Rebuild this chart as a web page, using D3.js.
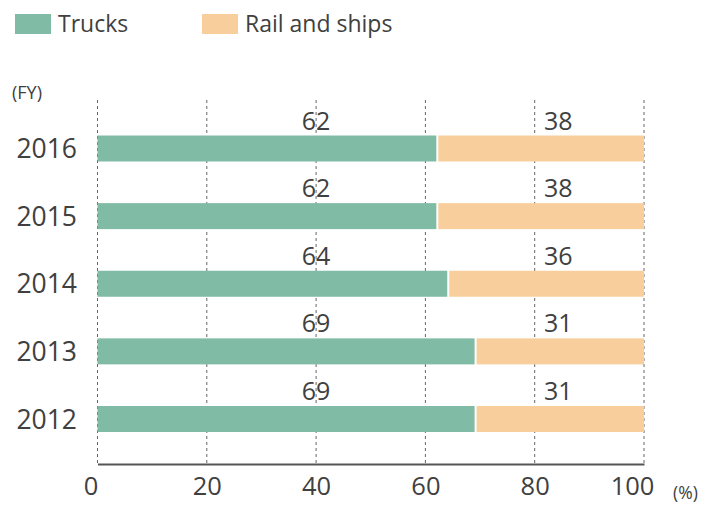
<!DOCTYPE html>
<html>
<head>
<meta charset="utf-8">
<title>Transport share</title>
<style>
  body { margin: 0; background: #fff; }
  svg { font-family: "Open Sans", "Noto Sans", sans-serif; }
</style>
</head>
<body>
<svg width="707" height="506"></svg>
<script src="https://d3js.org/d3.v7.min.js"></script>
<script>
  // data
  const years = ["2016", "2015", "2014", "2013", "2012"];
  const trucks = [62, 62, 64, 69, 69];
  const railShips = [38, 38, 36, 31, 31];
  const xTicks = [0, 20, 40, 60, 80, 100];

  const green = "#80bba5", orange = "#f8cf9c", ink = "#404040";

  const svg = d3.select("svg");

  const x = d3.scaleLinear().domain([0, 100]).range([97.5, 644]);
  const y = d3.scalePoint().domain(years).range([148.5, 419]);
  const barH = 26;

  // legend
  const legend = [["Trucks", green, 15], ["Rail and ships", orange, 202]];
  legend.forEach(([label, col, lx]) => {
    svg.append("rect").attr("x", lx).attr("y", 14).attr("width", 36).attr("height", 20).attr("fill", col);
    svg.append("text").attr("x", lx + 43).attr("y", 32)
      .attr("font-size", 23).attr("fill", ink).text(label);
  });

  svg.append("text").attr("x", 12).attr("y", 99).attr("font-size", 18).attr("fill", ink).text("(FY)");

  // dashed grid
  svg.append("g").selectAll("line").data(xTicks).join("line")
    .attr("x1", d => x(d)).attr("x2", d => x(d))
    .attr("y1", 100).attr("y2", 464)
    .attr("stroke", "#666").attr("stroke-width", 1)
    .attr("stroke-dasharray", "3,3");

  // bars
  const rows = years.map((yr, i) => ({ yr, t: trucks[i], r: railShips[i] }));
  const g = svg.append("g");
  g.selectAll(".t").data(rows).join("rect").attr("class", "t")
    .attr("x", x(0)).attr("y", d => y(d.yr) - barH / 2)
    .attr("width", d => x(d.t) - x(0)).attr("height", barH)
    .attr("fill", green);
  g.selectAll(".r").data(rows).join("rect").attr("class", "r")
    .attr("x", d => x(100 - d.r) + 2).attr("y", d => y(d.yr) - barH / 2)
    .attr("width", d => x(100) - x(100 - d.r) - 2).attr("height", barH)
    .attr("fill", orange);

  // value labels above bars
  g.selectAll(".tl").data(rows).join("text").attr("class", "tl")
    .attr("x", x(40)).attr("y", d => y(d.yr) - 19)
    .attr("text-anchor", "middle").attr("font-size", 25).attr("fill", ink)
    .text(d => d.t);
  g.selectAll(".rl").data(rows).join("text").attr("class", "rl")
    .attr("x", x(84.3)).attr("y", d => y(d.yr) - 19)
    .attr("text-anchor", "middle").attr("font-size", 25).attr("fill", ink)
    .text(d => d.r);

  // year labels
  svg.append("g").selectAll("text").data(years).join("text")
    .attr("x", 77).attr("y", d => y(d) + 9.5)
    .attr("text-anchor", "end").attr("font-size", 26.5).attr("fill", ink)
    .text(d => d);

  // x axis
  const xAxis = svg.append("g").attr("transform", "translate(0,464)")
    .call(d3.axisBottom(x).tickValues(xTicks).tickSize(0).tickPadding(13));
  xAxis.select(".domain").attr("stroke", "#555").attr("stroke-width", 2);
  xAxis.selectAll("text").attr("font-size", 25.5).attr("fill", ink)
    .attr("font-family", "'Open Sans', 'Noto Sans', sans-serif")
    .attr("dx", d => d === 0 ? -7 : d === 100 ? -12 : 0);

  svg.append("text").attr("x", 673).attr("y", 499).attr("font-size", 17.5).attr("fill", ink).text("(%)");
</script>
</body>
</html>
